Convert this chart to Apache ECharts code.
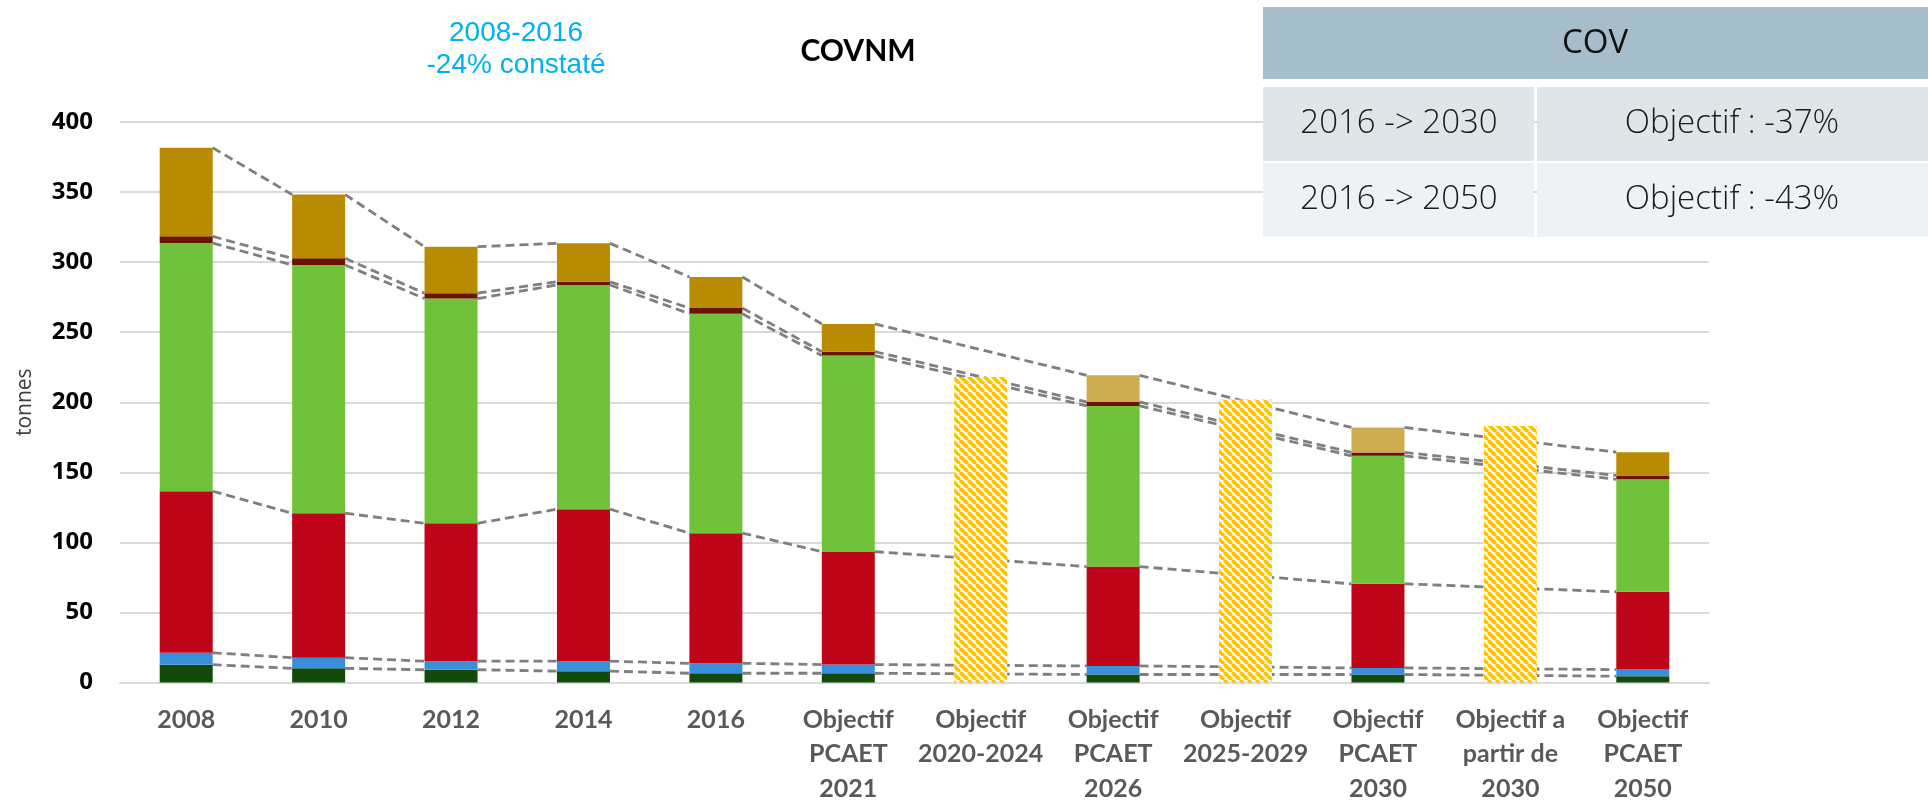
<!DOCTYPE html>
<html>
<head>
<meta charset="utf-8">
<title>COVNM</title>
<script src="https://cdn.jsdelivr.net/npm/echarts@6/dist/echarts.min.js"></script>
<style>
  html, body { margin: 0; padding: 0; background: #fff; }
  #main { width: 1928px; height: 806px; }
</style>
</head>
<body>
<div id="main"></div>
<script>
var categories = ['2008', '2010', '2012', '2014', '2016', 'Objectif\nPCAET\n2021', 'Objectif\n2020-2024',
  'Objectif\nPCAET\n2026', 'Objectif\n2025-2029', 'Objectif\nPCAET\n2030', 'Objectif a\npartir de\n2030', 'Objectif\nPCAET\n2050'];

// layers from bottom to top (tonnes), null on the "objectif" hatched columns
var darkGreenVals = [12.7, 10.1, 9.1, 8.1, 6.6, 6.6, null, 5.7, null, 5.7, null, 4.5];
var blueVals = [8.5, 7.6, 6.1, 7.1, 7.1, 6.2, null, 6.1, null, 4.7, null, 4.7];
var redVals = [115.3, 103.1, 98.4, 108.5, 92.9, 80.6, null, 70.9, null, 60.0, null, 55.5];
var greenVals = [177.1, 177.2, 160.4, 160.0, 156.6, 139.9, null, 114.7, null, 91.4, null, 80.3];
var darkRedVals = [4.8, 4.7, 3.8, 2.3, 4.0, 2.8, null, 2.8, null, 2.4, null, 2.8];
var goldVals = [63.2, 45.5, 33.2, 27.4, 22.2, 19.8, null, 19.0, null, 17.8, null, 16.6];
var objectifVals = [null, null, null, null, null, null, 218, null, 202, null, 183, null];

var yTicks = { min: 0, max: 400, interval: 50 };

var tableHeader = 'COV';
var tableRows = [
  ['2016 -> 2030', 'Objectif : -37%'],
  ['2016 -> 2050', 'Objectif : -43%']
];

var layers = [darkGreenVals, blueVals, redVals, greenVals, darkRedVals, goldVals];
var layerColors = ['#134A0B', '#3A8FDA', '#BE0519', '#71C23B', '#6A1400', '#B88B00'];

// hatch pattern for the objective columns
var hatch = document.createElement('canvas');
hatch.width = 8;
hatch.height = 8;
var hctx = hatch.getContext('2d');
hctx.fillStyle = '#ffffff';
hctx.fillRect(0, 0, 8, 8);
hctx.strokeStyle = '#FFC000';
hctx.lineWidth = 3.4;
[-8, 0, 8].forEach(function (o) {
  hctx.beginPath();
  hctx.moveTo(o, 0);
  hctx.lineTo(o + 8, 8);
  hctx.stroke();
});

// series lines: join the top of each layer between consecutive real bars
var cumul = [];
var running = categories.map(function () { return 0; });
layers.forEach(function (vals) {
  running = running.map(function (r, i) { return vals[i] == null ? null : r + vals[i]; });
  cumul.push(running.slice());
});
var seriesLineData = [];
cumul.forEach(function (tops) {
  var prev = -1;
  tops.forEach(function (v, i) {
    if (v == null) return;
    if (prev >= 0) seriesLineData.push([prev, i, tops[prev], v]);
    prev = i;
  });
});

var BAR_W = 53;

var renderSeriesLine = function (params, api) {
  var p1 = api.coord([api.value(0), api.value(2)]);
  var p2 = api.coord([api.value(1), api.value(3)]);
  var half = BAR_W / 2;
  return {
    type: 'line',
    shape: { x1: p1[0] + half, y1: p1[1], x2: p2[0] - half, y2: p2[1] },
    style: { stroke: '#7F7F7F', lineWidth: 2.8, lineDash: [9, 5] }
  };
};

var series = layers.map(function (vals, k) {
  var data = vals.map(function (v, i) {
    if (k === 5 && (i === 7 || i === 9)) {
      return { value: v, itemStyle: { color: '#CDAD4F' } };
    }
    return v;
  });
  return {
    type: 'bar',
    stack: 'total',
    barWidth: BAR_W,
    z: 3,
    itemStyle: { color: layerColors[k] },
    data: data
  };
});
series.push({
  type: 'bar',
  stack: 'total',
  barWidth: BAR_W,
  z: 3,
  itemStyle: { color: { image: hatch, repeat: 'repeat' } },
  data: objectifVals
});
series.push({
  type: 'custom',
  z: 1,
  renderItem: renderSeriesLine,
  encode: { x: [0, 1], y: [2, 3] },
  data: seriesLineData
});

// table in the top right corner, drawn above the grid lines
var tableGraphics = [
  { type: 'rect', z: 100, shape: { x: 1263, y: 7, width: 665, height: 72 }, style: { fill: '#A6BDCB' } },
  { type: 'text', z: 101, x: 1595, y: 44, style: { text: tableHeader, font: '33px "Open Sans"', fill: '#111', align: 'center', verticalAlign: 'middle' } }
];
var rowFill = ['#DEE6EA', '#EEF2F5'];
tableRows.forEach(function (row, r) {
  var top = 87 + r * 76;
  tableGraphics.push({ type: 'rect', z: 100, shape: { x: 1263, y: top, width: 271, height: 74 }, style: { fill: rowFill[r] } });
  tableGraphics.push({ type: 'rect', z: 100, shape: { x: 1537, y: top, width: 391, height: 74 }, style: { fill: rowFill[r] } });
  tableGraphics.push({ type: 'text', z: 101, x: 1399, y: top + 37, style: { text: row[0], font: '300 33px "Open Sans"', fill: '#1a1a1a', align: 'center', verticalAlign: 'middle' } });
  tableGraphics.push({ type: 'text', z: 101, x: 1732, y: top + 37, style: { text: row[1], font: '300 33px "Open Sans"', fill: '#1a1a1a', align: 'center', verticalAlign: 'middle' } });
});

var option = {
  animation: false,
  backgroundColor: '#fff',
  title: [{
    text: 'COVNM',
    left: 858,
    top: 36,
    padding: 0,
    textAlign: 'center',
    textStyle: { fontFamily: 'Lato', fontWeight: 'bold', fontSize: 30, color: '#000' }
  }, {
    text: '2008-2016\n-24% constaté',
    left: 516,
    top: 17,
    padding: 0,
    textAlign: 'center',
    textStyle: { fontFamily: 'Liberation Sans', fontWeight: 'normal', fontSize: 28, lineHeight: 32, color: '#00B0F0' }
  }],
  grid: { left: 120, right: 219, top: 122, bottom: 120 },
  xAxis: {
    type: 'category',
    data: categories,
    axisLine: { lineStyle: { color: '#D9D9D9', width: 2 } },
    axisTick: { show: false },
    axisLabel: {
      interval: 0,
      margin: 20,
      fontFamily: 'Lato',
      fontWeight: 'bold',
      fontSize: 25,
      lineHeight: 34.5,
      color: '#595959'
    }
  },
  yAxis: {
    type: 'value',
    min: yTicks.min,
    max: yTicks.max,
    interval: yTicks.interval,
    name: 'tonnes',
    nameLocation: 'middle',
    nameRotate: 90,
    nameGap: 84,
    nameTextStyle: { fontFamily: 'Open Sans', fontSize: 21, color: '#404040' },
    axisLine: { show: false },
    axisTick: { show: false },
    axisLabel: { margin: 27, fontFamily: 'Open Sans', fontWeight: 'bold', fontSize: 24, color: '#000' },
    splitLine: { lineStyle: { color: '#D9D9D9', width: 2 } }
  },
  graphic: tableGraphics,
  series: series
};

var chart = echarts.init(document.getElementById('main'));
chart.setOption(option);
</script>
</body>
</html>
